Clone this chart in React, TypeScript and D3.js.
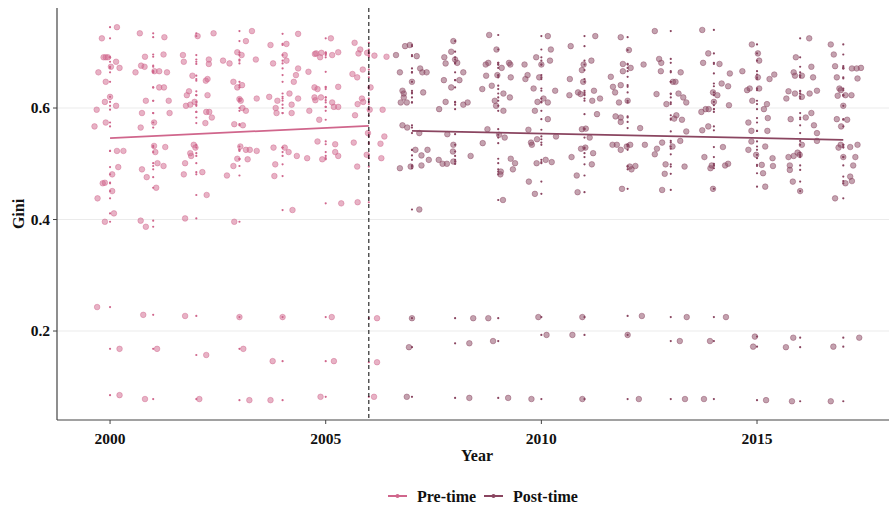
import React from "react";
import * as d3 from "d3";

// Each observation: [Gini, horizontal jitter in years]
const obs2000: [number, number][] = [
  [0.745, 0.16], [0.725, -0.19], [0.691, -0.15], [0.691, -0.1], [0.691, -0.05], [0.683, 0.14],
  [0.674, 0.02], [0.672, 0.22], [0.664, -0.27], [0.647, -0.1], [0.62, 0], [0.611, -0.12],
  [0.604, 0.14], [0.597, -0.31], [0.574, -0.1], [0.567, -0.36], [0.523, 0.16], [0.523, 0.31],
  [0.494, 0.19], [0.481, 0.05], [0.465, -0.17], [0.466, -0.12], [0.451, 0.05], [0.438, -0.29],
  [0.411, 0.09], [0.396, -0.12], [0.243, -0.3], [0.168, 0.22], [0.085, 0.22],
];
const obs2001: [number, number][] = [
  [0.734, -0.31], [0.727, 0.26], [0.692, -0.19], [0.696, 0.24], [0.676, -0.28], [0.674, -0.2],
  [0.664, -0.41], [0.666, 0.03], [0.666, 0.14], [0.664, 0.32], [0.637, 0.14], [0.637, 0.25],
  [0.613, -0.17], [0.613, 0.36], [0.591, -0.26], [0.591, 0.38], [0.574, 0.02], [0.565, -0.29],
  [0.532, 0.02], [0.53, 0.28], [0.521, 0.05], [0.501, 0.1], [0.496, 0.24], [0.49, -0.26],
  [0.476, -0.15], [0.457, 0.07], [0.398, -0.29], [0.387, -0.17], [0.229, -0.23], [0.168, 0.09],
  [0.078, -0.19],
];
const obs2002: [number, number][] = [
  [0.729, 0.03], [0.734, 0.4], [0.695, -0.31], [0.683, -0.29], [0.687, 0.29], [0.679, 0.29],
  [0.658, -0.09], [0.649, 0.22], [0.652, 0.26], [0.63, -0.17], [0.623, -0.22], [0.623, 0.26],
  [0.611, -0.04], [0.604, -0.24], [0.606, -0.14], [0.593, 0.23], [0.593, 0.3], [0.583, 0.36],
  [0.573, 0.21], [0.534, -0.06], [0.529, -0.02], [0.519, -0.14], [0.514, -0.12], [0.501, -0.26],
  [0.485, 0.14], [0.481, -0.29], [0.444, 0.24], [0.402, -0.26], [0.227, -0.26], [0.157, 0.23],
  [0.078, 0.07],
];
const obs2003: [number, number][] = [
  [0.738, 0.29], [0.72, 0.15], [0.7, -0.05], [0.695, 0.05], [0.685, -0.38], [0.68, -0.23],
  [0.687, 0.38], [0.647, -0.14], [0.641, 0.06], [0.637, -0.05], [0.613, 0.03], [0.616, 0],
  [0.617, 0.4], [0.6, 0.07], [0.595, 0.15], [0.571, -0.12], [0.569, 0.08], [0.531, 0.02],
  [0.525, 0.15], [0.525, 0.24], [0.523, 0.4], [0.509, -0.05], [0.508, 0.19], [0.496, -0.14],
  [0.479, -0.29], [0.396, -0.12], [0.225, 0], [0.168, 0.09], [0.076, 0.23],
];
const obs2004: [number, number][] = [
  [0.713, -0.28], [0.68, -0.22], [0.62, -0.31], [0.613, -0.12], [0.6, -0.16], [0.591, -0.14],
  [0.529, -0.21], [0.499, -0.17], [0.478, -0.19], [0.733, 0.36], [0.715, 0.09], [0.695, 0.05],
  [0.685, 0.09], [0.671, 0.36], [0.659, 0.31], [0.647, 0.26], [0.626, 0.16], [0.617, 0.36],
  [0.606, 0.21], [0.591, 0.21], [0.529, 0.05], [0.521, 0.14], [0.514, 0.33], [0.417, 0.23],
  [0.225, 0], [0.146, -0.23], [0.076, -0.28],
];
const obs2005: [number, number][] = [
  [0.725, 0.12], [0.697, -0.25], [0.698, -0.22], [0.699, -0.1], [0.691, -0.13], [0.695, 0.15],
  [0.7, 0.29], [0.665, -0.4], [0.637, -0.26], [0.634, -0.19], [0.638, 0.29], [0.619, -0.26],
  [0.614, -0.24], [0.619, -0.11], [0.61, 0.15], [0.602, 0.19], [0.602, 0.29], [0.595, -0.38],
  [0.579, -0.15], [0.54, -0.19], [0.535, 0.22], [0.521, 0.22], [0.514, 0.29], [0.51, -0.43],
  [0.508, -0.08], [0.429, 0.36], [0.225, 0.14], [0.146, 0.19], [0.082, -0.12],
];
const obs2006: [number, number][] = [
  [0.717, -0.33], [0.705, -0.2], [0.698, -0.24], [0.699, -0.04], [0.694, 0.13], [0.692, 0.41],
  [0.669, -0.14], [0.661, -0.38], [0.655, -0.27], [0.637, 0.04], [0.617, -0.16], [0.611, -0.13],
  [0.607, -0.26], [0.597, 0.02], [0.597, 0.32], [0.587, -0.32], [0.555, -0.02], [0.549, 0.36],
  [0.536, 0.27], [0.538, -0.35], [0.516, -0.05], [0.51, 0.29], [0.495, -0.27], [0.431, -0.26],
  [0.223, 0.19], [0.144, 0.19], [0.082, 0.12],
];
const obs2007: [number, number][] = [
  [0.711, -0.16], [0.713, -0.05], [0.695, -0.37], [0.693, 0.11], [0.671, 0.19], [0.664, -0.28],
  [0.664, 0.24], [0.664, 0.34], [0.647, 0], [0.631, -0.22], [0.626, -0.19], [0.628, 0.26],
  [0.619, -0.19], [0.61, -0.26], [0.61, -0.12], [0.569, -0.22], [0.565, -0.11], [0.555, 0.17],
  [0.525, 0.08], [0.525, 0.36], [0.515, 0.22], [0.507, 0.39], [0.495, -0.03], [0.497, 0.22],
  [0.492, -0.28], [0.418, 0.17], [0.223, 0], [0.171, -0.07], [0.082, -0.12],
];
const obs2008: [number, number][] = [
  [0.72, -0.04], [0.701, -0.09], [0.691, -0.25], [0.687, 0], [0.681, 0.05], [0.68, -0.22],
  [0.664, 0.19], [0.65, 0.1], [0.65, -0.26], [0.637, -0.09], [0.611, -0.22], [0.606, 0.19],
  [0.61, 0.29], [0.598, -0.37], [0.553, -0.18], [0.534, -0.04], [0.522, -0.05], [0.507, -0.38],
  [0.5, -0.29], [0.5, -0.19], [0.504, -0.04], [0.514, 0.36], [0.223, 0.42], [0.178, 0.33],
  [0.08, 0.33],
];
const obs2009: [number, number][] = [
  [0.731, -0.21], [0.705, -0.04], [0.678, -0.29], [0.681, -0.23], [0.672, 0.08], [0.681, 0.25],
  [0.678, 0.28], [0.659, -0.02], [0.658, -0.28], [0.655, 0.29], [0.64, -0.15], [0.634, -0.37],
  [0.626, 0.12], [0.619, 0.27], [0.613, -0.08], [0.604, -0.05], [0.595, 0.12], [0.562, -0.25],
  [0.552, 0.02], [0.547, 0.15], [0.537, -0.36], [0.509, 0.29], [0.501, 0.39], [0.49, 0.34],
  [0.486, 0.06], [0.481, 0.05], [0.435, 0.11], [0.223, -0.23], [0.182, -0.12], [0.08, 0.23],
];
const obs2010: [number, number][] = [
  [0.729, 0.15], [0.691, -0.12], [0.705, 0.22], [0.678, 0], [0.685, 0.2], [0.678, -0.39],
  [0.659, -0.32], [0.652, -0.37], [0.655, -0.05], [0.635, -0.18], [0.631, 0.32], [0.617, 0.05],
  [0.611, -0.09], [0.61, 0.15], [0.595, -0.15], [0.58, 0.15], [0.561, -0.3], [0.544, -0.1],
  [0.538, -0.24], [0.534, -0.22], [0.549, 0.34], [0.507, 0.1], [0.503, 0.24], [0.501, -0.11],
  [0.468, -0.29], [0.446, -0.15], [0.225, -0.07], [0.193, 0.12], [0.078, -0.23],
];
const obs2011: [number, number][] = [
  [0.729, 0.25], [0.711, -0.32], [0.685, 0.16], [0.678, -0.02], [0.668, -0.06], [0.652, -0.34],
  [0.647, -0.03], [0.631, 0.22], [0.623, -0.35], [0.628, -0.15], [0.625, -0.09], [0.613, 0.18],
  [0.617, 0.36], [0.589, 0.29], [0.562, -0.06], [0.563, 0.03], [0.547, 0.12], [0.527, -0.08],
  [0.529, 0.02], [0.519, 0.2], [0.512, -0.3], [0.499, 0.17], [0.479, -0.18], [0.449, -0.16],
  [0.225, -0.05], [0.193, -0.28], [0.078, -0.05],
];
const obs2012: [number, number][] = [
  [0.727, -0.16], [0.704, 0.03], [0.679, -0.11], [0.672, 0.07], [0.666, -0.11], [0.678, 0.37],
  [0.656, -0.39], [0.641, -0.16], [0.638, -0.34], [0.628, -0.29], [0.61, -0.2], [0.613, 0],
  [0.583, -0.16], [0.585, -0.28], [0.575, -0.16], [0.564, 0.29], [0.534, -0.35], [0.534, -0.25],
  [0.525, -0.16], [0.531, -0.02], [0.534, 0.06], [0.534, 0.4], [0.495, 0.05], [0.49, 0.09],
  [0.496, 0.18], [0.455, -0.13], [0.227, 0.33], [0.193, 0], [0.078, 0.26],
];
const obs2013: [number, number][] = [
  [0.738, -0.37], [0.688, -0.27], [0.681, -0.22], [0.666, -0.23], [0.625, -0.33], [0.607, -0.1],
  [0.538, -0.2], [0.527, -0.32], [0.517, -0.37], [0.499, -0.12], [0.482, -0.14], [0.453, -0.2],
  [0.664, 0.23], [0.647, 0.11], [0.626, 0.18], [0.619, 0.29], [0.61, 0.36], [0.587, 0.13],
  [0.581, 0.08], [0.579, 0.26], [0.558, 0.36], [0.541, 0.22], [0.531, 0.04], [0.495, 0.32],
  [0.647, 0.05], [0.225, 0.37], [0.182, 0.21], [0.078, 0.33],
];
const obs2014: [number, number][] = [
  [0.74, -0.27], [0.698, -0.13], [0.681, -0.25], [0.679, 0.13], [0.662, 0.37], [0.644, 0.18],
  [0.639, 0.33], [0.628, -0.02], [0.623, 0.08], [0.611, 0], [0.605, 0.35], [0.593, -0.29],
  [0.598, -0.19], [0.598, -0.12], [0.56, -0.27], [0.567, -0.13], [0.53, 0.21], [0.512, -0.22],
  [0.492, -0.08], [0.497, -0.05], [0.497, 0.26], [0.5, 0.33], [0.455, -0.02], [0.225, 0.28],
  [0.182, -0.09], [0.078, -0.23],
];
const obs2015: [number, number][] = [
  [0.714, -0.12], [0.698, 0.02], [0.685, 0.05], [0.666, -0.34], [0.655, 0.02], [0.652, 0.29],
  [0.66, 0.4], [0.632, -0.23], [0.635, -0.17], [0.635, 0.05], [0.613, -0.11], [0.607, 0.23],
  [0.598, 0.16], [0.582, 0.25], [0.574, -0.2], [0.559, -0.13], [0.559, 0.24], [0.54, -0.13],
  [0.531, 0.19], [0.525, -0.2], [0.516, -0.02], [0.51, 0.36], [0.498, 0.11], [0.496, 0.37],
  [0.483, 0.14], [0.459, 0.19], [0.19, -0.05], [0.172, -0.09], [0.076, 0.21],
];
const obs2016: [number, number][] = [
  [0.725, 0.21], [0.691, -0.1], [0.664, -0.15], [0.658, -0.12], [0.674, 0.26], [0.655, 0.3],
  [0.658, 0.04], [0.63, -0.27], [0.626, -0.12], [0.626, 0.22], [0.631, 0.39], [0.617, -0.32],
  [0.62, 0.04], [0.591, 0.26], [0.583, 0.13], [0.58, -0.22], [0.569, 0.32], [0.555, 0.39],
  [0.541, 0.39], [0.52, -0.06], [0.516, -0.01], [0.514, -0.15], [0.512, -0.27], [0.534, 0.04],
  [0.497, -0.24], [0.489, -0.24], [0.468, -0.17], [0.451, 0], [0.188, -0.16], [0.171, -0.33],
  [0.074, -0.19],
];
const obs2017: [number, number][] = [
  [0.714, -0.29], [0.696, -0.22], [0.675, -0.19], [0.655, -0.15], [0.671, 0.2], [0.671, 0.31],
  [0.672, 0.41], [0.653, 0.33], [0.635, -0.09], [0.632, -0.06], [0.622, -0.13], [0.623, 0.05],
  [0.623, 0.19], [0.604, 0], [0.58, -0.15], [0.579, 0.09], [0.567, -0.05], [0.534, -0.06],
  [0.53, 0.16], [0.534, 0.33], [0.529, -0.11], [0.512, 0], [0.512, 0.28], [0.497, 0.23],
  [0.477, 0.16], [0.465, 0.05], [0.469, 0.2], [0.438, -0.19], [0.188, 0.37], [0.172, -0.23],
  [0.074, -0.29],
];

const preYears = [2000, 2001, 2002, 2003, 2004, 2005, 2006];
const preObs = [obs2000, obs2001, obs2002, obs2003, obs2004, obs2005, obs2006];
const postYears = [2007, 2008, 2009, 2010, 2011, 2012, 2013, 2014, 2015, 2016, 2017];
const postObs = [obs2007, obs2008, obs2009, obs2010, obs2011, obs2012, obs2013, obs2014, obs2015, obs2016, obs2017];

// Fitted linear trends (start and end of each period)
const preTrendYears = [2000, 2006];
const preTrendGini = [0.546, 0.568];
const postTrendYears = [2007, 2017];
const postTrendGini = [0.559, 0.543];

const cutYear = 2006;
const xTicks = [2000, 2005, 2010, 2015];
const yTicks = [0.2, 0.4, 0.6];
const legendLabels = ["Pre-time", "Post-time"];

const PRE_COLOR = "#d0668c";
const POST_COLOR = "#8a4560";

const W = 889;
const H = 508;
const left = 57;
const right = 889;
const top = 8;
const bottom = 420;

const x = d3.scaleLinear().domain([1998.77, 2018.06]).range([left, right]);
const y = d3.scaleLinear().domain([0.0404, 0.7794]).range([bottom, top]);

const FONT = "'Liberation Serif', 'Times New Roman', serif";

type Pt = { year: number; gini: number; jit: number };

function flatten(years: number[], groups: [number, number][][]): Pt[] {
  const out: Pt[] = [];
  years.forEach((yr, i) => {
    groups[i].forEach(([g, j]) => out.push({ year: yr, gini: g, jit: j }));
  });
  return out;
}

const prePts = flatten(preYears, preObs);
const postPts = flatten(postYears, postObs);

const line = d3
  .line<[number, number]>()
  .x((d) => x(d[0]))
  .y((d) => y(d[1]));

function Points({ pts, color }: { pts: Pt[]; color: string }) {
  return (
    <g>
      {pts.map((p, i) => (
        <circle
          key={"j" + i}
          cx={x(p.year + p.jit)}
          cy={y(p.gini)}
          r={2.8}
          fill={color}
          fillOpacity={0.5}
          stroke={color}
          strokeOpacity={0.55}
          strokeWidth={0.8}
        />
      ))}
      {pts.map((p, i) => (
        <circle key={"d" + i} cx={x(p.year)} cy={y(p.gini)} r={1.1} fill={color} />
      ))}
    </g>
  );
}

export default function App() {
  const preLine = line(preTrendYears.map((yr, i) => [yr, preTrendGini[i]] as [number, number]));
  const postLine = line(postTrendYears.map((yr, i) => [yr, postTrendGini[i]] as [number, number]));
  const legendItems = [
    { label: legendLabels[0], color: PRE_COLOR, x0: 388, tx: 417 },
    { label: legendLabels[1], color: POST_COLOR, x0: 484, tx: 513 },
  ];
  return (
    <svg
      width={W}
      height={H}
      style={{ position: "fixed", left: 0, top: 0, background: "#fff" }}
      fontFamily={FONT}
    >
      <rect x={0} y={0} width={W} height={H} fill="#fff" />
      {/* horizontal grid */}
      {yTicks.map((t) => (
        <line key={t} x1={left} x2={right} y1={y(t)} y2={y(t)} stroke="#ebebeb" strokeWidth={1.1} />
      ))}

      <Points pts={prePts} color={PRE_COLOR} />
      <Points pts={postPts} color={POST_COLOR} />

      <path d={preLine ?? ""} fill="none" stroke={PRE_COLOR} strokeWidth={1.8} />
      <path d={postLine ?? ""} fill="none" stroke={POST_COLOR} strokeWidth={1.8} />

      {/* intervention year */}
      <line
        x1={x(cutYear)}
        x2={x(cutYear)}
        y1={top}
        y2={bottom}
        stroke="#000"
        strokeWidth={1}
        strokeDasharray="4,3"
      />

      {/* axes */}
      <line x1={left} x2={left} y1={top} y2={bottom} stroke="#444" strokeWidth={1.2} />
      <line x1={left} x2={right} y1={bottom} y2={bottom} stroke="#444" strokeWidth={1.2} />
      {yTicks.map((t) => (
        <g key={t}>
          <line x1={left - 4} x2={left} y1={y(t)} y2={y(t)} stroke="#444" strokeWidth={1} />
          <text
            x={left - 7}
            y={y(t)}
            dy="0.35em"
            textAnchor="end"
            fontSize={15.5}
            fontWeight="bold"
            fill="#111"
          >
            {d3.format(".1f")(t)}
          </text>
        </g>
      ))}
      {xTicks.map((t) => (
        <g key={t}>
          <line x1={x(t)} x2={x(t)} y1={bottom} y2={bottom + 4} stroke="#444" strokeWidth={1} />
          <text
            x={x(t)}
            y={bottom + 19}
            dy="0.35em"
            textAnchor="middle"
            fontSize={15.5}
            fontWeight="bold"
            fill="#111"
          >
            {t}
          </text>
        </g>
      ))}
      <text x={477} y={455} dy="0.35em" textAnchor="middle" fontSize={16} fontWeight="bold" fill="#111">
        Year
      </text>
      <text
        transform={`translate(18,${(top + bottom) / 2}) rotate(-90)`}
        dy="0.35em"
        textAnchor="middle"
        fontSize={16}
        fontWeight="bold"
        fill="#111"
      >
        Gini
      </text>

      {/* legend */}
      {legendItems.map((it) => (
        <g key={it.label}>
          <line x1={it.x0} x2={it.x0 + 19} y1={496} y2={496} stroke={it.color} strokeWidth={2} />
          <circle cx={it.x0 + 9.5} cy={496} r={2} fill={it.color} />
          <text x={it.tx} y={496} dy="0.35em" fontSize={16} fontWeight="bold" fill="#111">
            {it.label}
          </text>
        </g>
      ))}
    </svg>
  );
}
